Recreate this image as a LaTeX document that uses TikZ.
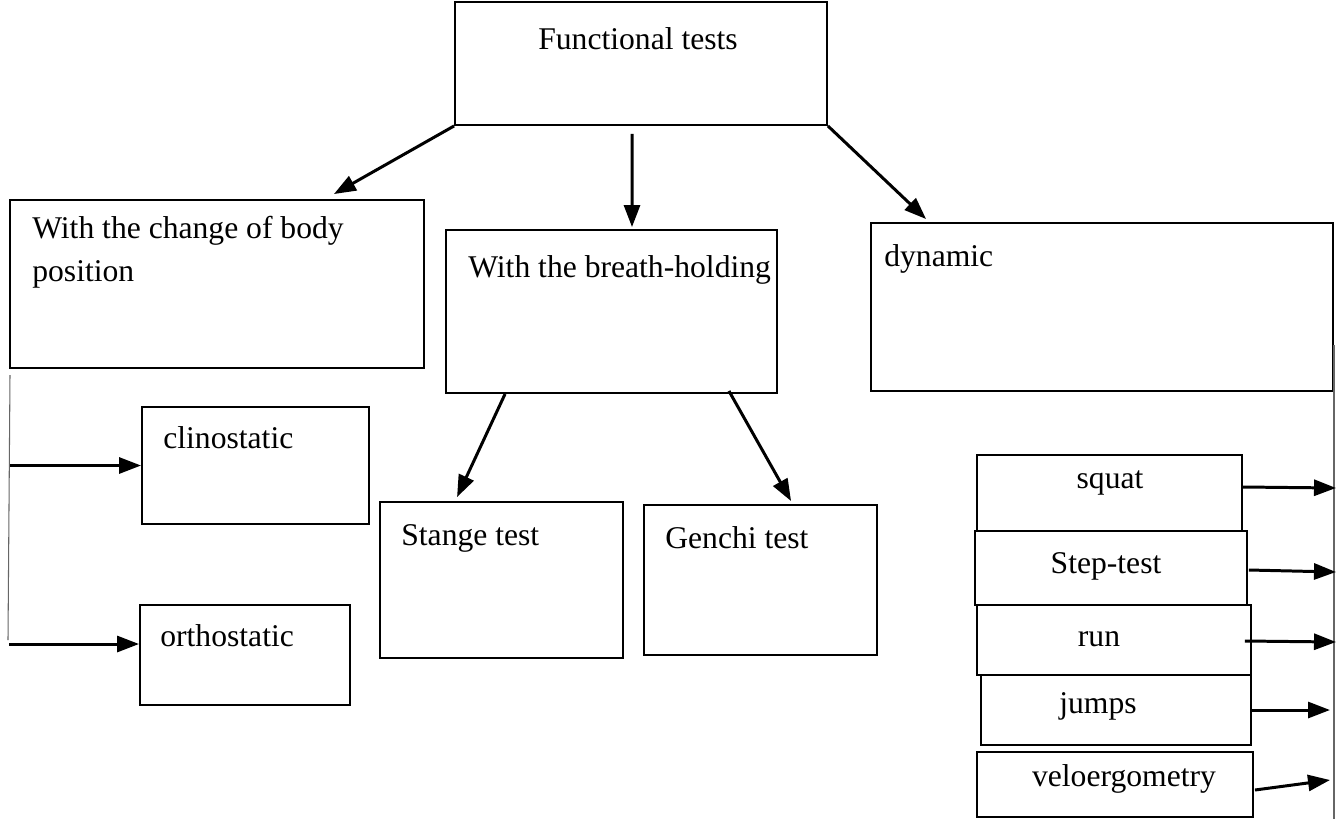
\documentclass[tikz,border=0pt]{standalone}
\usepackage{fontspec}
\setmainfont{Liberation Serif}
\usetikzlibrary{arrows.meta}

\begin{document}
\begin{tikzpicture}[x=0.02cm, y=-0.02cm,
    box/.style={draw, line width=1.1pt, inner sep=0pt},
    lbl/.style={inner sep=0pt, font=\fontsize{18}{24.5}\selectfont},
    arr/.style={line width=1.7pt, -{Triangle[length=0.44cm, width=0.32cm]}},
    thinline/.style={draw=black!60, line width=0.6pt}]
         \useasboundingbox (0,0) rectangle (1341,819);

         \node[box, minimum width=7.44cm, minimum height=2.46cm] (func) at (641,63.5) {};
         \node[box, minimum width=8.28cm, minimum height=3.36cm] (bodypos) at (217,284) {};
         \node[box, minimum width=6.62cm, minimum height=3.26cm] (breath) at (611.5,311.5) {};
         \node[box, minimum width=9.24cm, minimum height=3.36cm] (dynamic) at (1102,307) {};
         \node[box, minimum width=4.54cm, minimum height=2.34cm] (clino) at (255.5,465.5) {};
         \node[box, minimum width=4.2cm, minimum height=2.0cm] (ortho) at (245,655) {};
         \node[box, minimum width=4.86cm, minimum height=3.12cm] (stange) at (501.5,580) {};
         \node[box, minimum width=4.66cm, minimum height=3.0cm] (genchi) at (760.5,580) {};
         \node[box, minimum width=5.3cm, minimum height=1.52cm] (squat) at (1109.5,493) {};
         \node[box, minimum width=5.44cm, minimum height=1.48cm] (steptest) at (1111,568) {};
         \node[box, minimum width=5.48cm, minimum height=1.4cm] (run) at (1114,640) {};
         \node[box, minimum width=5.4cm, minimum height=1.4cm] (jumps) at (1116,710) {};
         \node[box, minimum width=5.52cm, minimum height=1.3cm] (velo) at (1115,784.5) {};

         \node[lbl, anchor=base] (funcT) at (638,49) {Functional tests};
         \node[lbl, anchor=north west, align=left] (bodyposT) at (32,216) {With the change of body\\position};
         \node[lbl, anchor=base west] (breathT) at (468,277) {With the breath-holding};
         \node[lbl, anchor=base west] (dynamicT) at (884,266) {dynamic};
         \node[lbl, anchor=base west] (clinoT) at (163,448) {clinostatic};
         \node[lbl, anchor=base west] (orthoT) at (160,646) {orthostatic};
         \node[lbl, anchor=base west] (stangeT) at (401,545) {Stange test};
         \node[lbl, anchor=base west] (genchiT) at (665,548) {Genchi test};
         \node[lbl, anchor=base] (squatT) at (1110,488) {squat};
         \node[lbl, anchor=base] (steptestT) at (1106,573) {Step-test};
         \node[lbl, anchor=base] (runT) at (1099,646) {run};
         \node[lbl, anchor=base] (jumpsT) at (1098,713) {jumps};
         \node[lbl, anchor=base] (veloT) at (1124,786) {veloergometry};

         \coordinate (ltop) at (10,375);
         \coordinate (lbot) at (8,640);
         \coordinate (rtop) at (1334,345);
         \coordinate (rbot) at (1334,819);
         \coordinate (r1) at (1336,488);
         \coordinate (r2) at (1336,572);
         \coordinate (r3) at (1336,642);
         \coordinate (r4) at (1330,710);
         \coordinate (r5) at (1330,780);

         \draw[arr] (func.south west) -- ([shift={(-91,-5)}]bodypos.north east);
         \draw[arr] ([shift={(-9,8)}]func.south) -- ([shift={(20.5,-2)}]breath.north);
         \draw[arr] (func.south east) -- ([shift={(56,-3)}]dynamic.north west);
         \draw[arr] ([shift={(60,0)}]breath.south west) -- ([shift={(78,-4)}]stange.north west);
         \draw[arr] ([shift={(-49,-3)}]breath.south east) -- ([shift={(148,-3)}]genchi.north west);

         \draw[thinline] (ltop) -- (lbot);
         \draw[arr] (ltop |- clino.west) -- (clino.west);
         \draw[arr] ([shift={(1,-11)}]lbot |- ortho.west) -- ([shift={(0,-11)}]ortho.west);

         \draw[thinline] (rtop) -- (rbot);
         \draw[arr] ([shift={(0,-6)}]squat.east) -- (r1);
         \draw[arr] ([shift={(1,2)}]steptest.east) -- (r2);
         \draw[arr] ([shift={(-7,1)}]run.east) -- (r3);
         \draw[arr] (jumps.east) -- (r4);
         \draw[arr] ([shift={(1,5.5)}]velo.east) -- (r5);
      \end{tikzpicture}
\end{document}
